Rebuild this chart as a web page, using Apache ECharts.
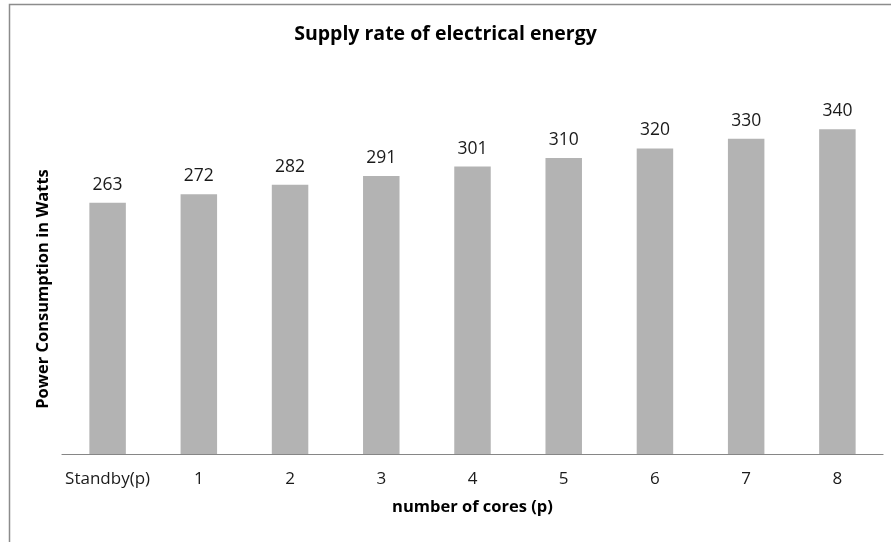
<!DOCTYPE html>
<html>
<head>
<meta charset="utf-8">
<script src="https://cdn.jsdelivr.net/npm/echarts@6/dist/echarts.min.js"></script>
<style>
  html, body { margin: 0; padding: 0; background: #ffffff; }
  #chart { width: 891px; height: 542px; }
</style>
</head>
<body>
<div id="chart"></div>
<script>
// Power drawn by the machine at each core count
const categories = ['Standby(p)', '1', '2', '3', '4', '5', '6', '7', '8'];
const powerWatts = [263, 272, 282, 291, 301, 310, 320, 330, 340];

const chartTitle = 'Supply rate of electrical energy';
const xAxisTitle = 'number of cores (p)';
const yAxisTitle = 'Power Consumption in Watts';

const FONT = '"Open Sans", sans-serif';

const chart = echarts.init(document.getElementById('chart'), null, { renderer: 'canvas' });

chart.setOption({
  backgroundColor: '#ffffff',
  animation: false,
  title: {
    text: chartTitle,
    left: 'center',
    top: 19,
    textStyle: { fontFamily: FONT, fontSize: 19.5, fontWeight: 'bold', color: '#000000' }
  },
  graphic: [
    {
      type: 'rect',
      shape: { x: 9.5, y: 4.5, width: 900, height: 560 },
      style: { fill: 'none', stroke: '#8c8c8c', lineWidth: 1.5 },
      silent: true
    },
    {
      type: 'text',
      x: 43,
      y: 289,
      rotation: Math.PI / 2,
      style: {
        text: yAxisTitle,
        align: 'center',
        verticalAlign: 'middle',
        fontFamily: FONT,
        fontSize: 16.5,
        fontWeight: 'bold',
        fill: '#000000'
      },
      silent: true
    }
  ],
  grid: { left: 62, right: 8, top: 72, bottom: 88, containLabel: false },
  xAxis: {
    type: 'category',
    data: categories,
    name: xAxisTitle,
    nameLocation: 'middle',
    nameGap: 45,
    nameTextStyle: { fontFamily: FONT, fontSize: 16.5, fontWeight: 'bold', color: '#000000' },
    axisLine: { lineStyle: { color: '#868686', width: 1.2 } },
    axisTick: { show: false },
    axisLabel: { interval: 0, margin: 17, fontFamily: FONT, fontSize: 17, color: '#1a1a1a' }
  },
  yAxis: {
    type: 'value',
    min: 0,
    max: 400,
    show: true,
    axisLine: { show: false },
    axisTick: { show: false },
    axisLabel: { show: false },
    splitLine: { show: false }
  },
  series: [
    {
      type: 'bar',
      data: powerWatts,
      barWidth: '40%',
      itemStyle: { color: '#b3b3b3' },
      label: {
        show: true,
        position: 'top',
        distance: 9,
        fontFamily: FONT,
        fontSize: 17.5,
        color: '#1a1a1a'
      }
    }
  ]
});
</script>
</body>
</html>
